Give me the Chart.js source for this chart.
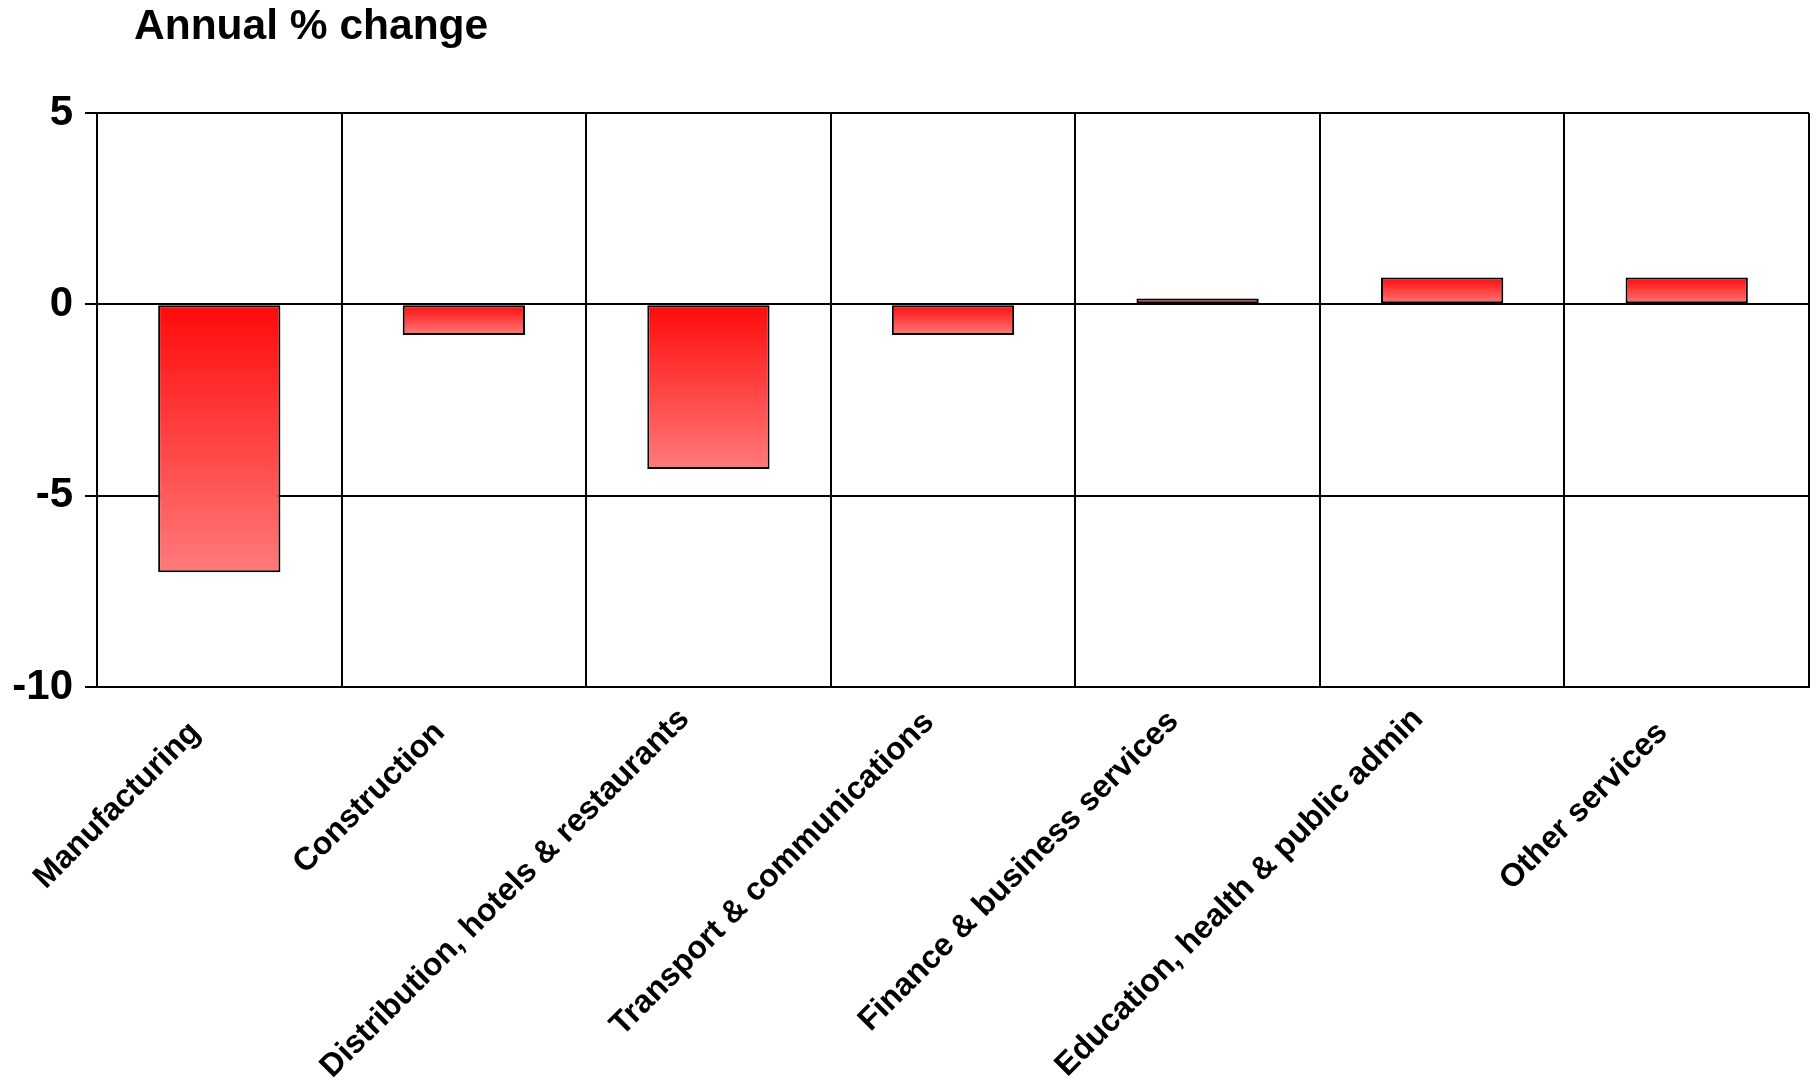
<!DOCTYPE html>
<html>
<head>
<meta charset="utf-8">
<script src="https://cdn.jsdelivr.net/npm/chart.js@4/dist/chart.umd.min.js"></script>
<style>
  html, body { margin: 0; padding: 0; background: #fff; }
  #wrap { width: 1816px; height: 1081px; }
</style>
</head>
<body>
<div id="wrap"><canvas id="chart"></canvas></div>
<script>
const categories = [
  'Manufacturing',
  'Construction',
  'Distribution, hotels & restaurants',
  'Transport & communications',
  'Finance & business services',
  'Education, health & public admin',
  'Other services'
];
const annualChange = [-7.0, -0.8, -4.3, -0.8, 0.15, 0.7, 0.7];
const yTicks = [5, 0, -5, -10];
const titleText = 'Annual % change';

const FONT = '"Liberation Sans", Arial, sans-serif';
const LABEL_SIZE = 32;

// gradient per bar, dark red at top to light red at bottom
function barGradient(context) {
  const chart = context.chart;
  const { ctx, chartArea, scales } = chart;
  if (!chartArea || !scales.y) return '#ff4040';
  const v = context.raw;
  const p0 = scales.y.getPixelForValue(0);
  const p1 = scales.y.getPixelForValue(v);
  const top = Math.min(p0, p1), bottom = Math.max(p0, p1);
  if (!isFinite(top) || bottom - top < 1) return '#ff4040';
  const g = ctx.createLinearGradient(0, top, 0, bottom);
  g.addColorStop(0, '#ff0a0a');
  g.addColorStop(1, '#ff7a7a');
  return g;
}

// long labels sit a little higher in the original, nudge them via line height
function labelFont(ctx) {
  const label = categories[ctx.index] || '';
  const shift = Math.min(19, Math.max(0, label.length - 14) * 1.2);
  const lh = (LABEL_SIZE * 1.2 - 2 * shift) / LABEL_SIZE;
  return { family: FONT, size: LABEL_SIZE, weight: 'bold', lineHeight: Math.max(0.01, lh) };
}

// title drawn in the top left
const titlePlugin = {
  id: 'topTitle',
  afterDraw(chart) {
    const ctx = chart.ctx;
    ctx.save();
    ctx.font = 'bold 42.5px ' + FONT;
    ctx.fillStyle = '#000';
    ctx.textBaseline = 'alphabetic';
    ctx.textAlign = 'left';
    ctx.fillText(titleText, 134, 39);
    ctx.restore();
  }
};

const chart = new Chart(document.getElementById('chart'), {
  type: 'bar',
  data: {
    labels: categories,
    datasets: [{
      label: titleText,
      data: annualChange,
      backgroundColor: barGradient,
      borderColor: '#000',
      borderWidth: 2,
      borderSkipped: false,
      categoryPercentage: 1,
      barPercentage: 0.5
    }]
  },
  options: {
    responsive: true,
    maintainAspectRatio: false,
    animation: false,
    layout: { padding: { top: 113, right: 7, left: 0, bottom: 0 } },
    plugins: {
      legend: { display: false },
      tooltip: { enabled: false }
    },
    scales: {
      x: {
        offset: true,
        grid: { color: '#000', lineWidth: 2, drawTicks: false, offset: true },
        border: { color: '#000', width: 2 },
        ticks: {
          color: '#000',
          font: labelFont,
          maxRotation: 45,
          minRotation: 45,
          autoSkip: false,
          padding: 27,
          labelOffset: -24
        },
        afterFit(scale) { scale.height = 1081 - 687; }
      },
      y: {
        min: -10,
        max: 5,
        afterBuildTicks(scale) { scale.ticks = yTicks.map(v => ({ value: v })); },
        grid: { color: '#000', lineWidth: 2, tickLength: 12 },
        border: { color: '#000', width: 2 },
        ticks: {
          color: '#000',
          font: { family: FONT, size: 42, weight: 'bold' },
          padding: 12
        },
        afterFit(scale) { scale.width = 97; }
      }
    }
  },
  plugins: [titlePlugin]
});
</script>
</body>
</html>
